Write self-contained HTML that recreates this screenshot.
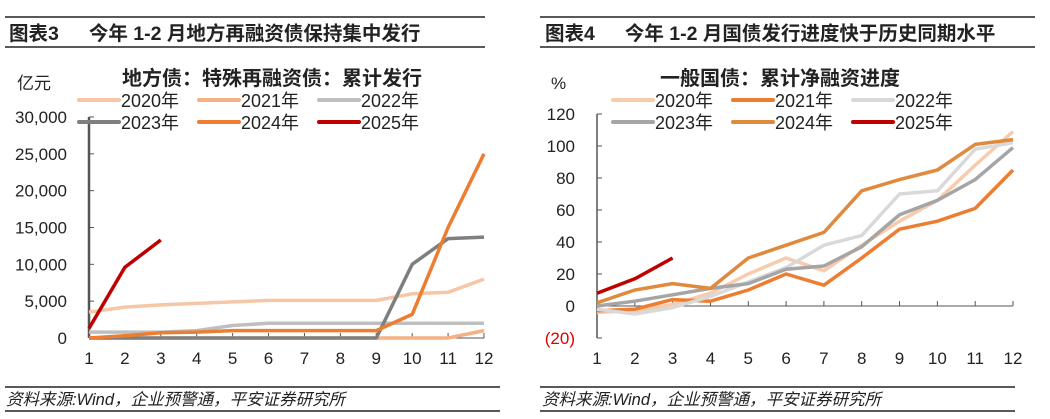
<!DOCTYPE html>
<html><head><meta charset="utf-8">
<style>
html,body{margin:0;padding:0;background:#fff;}
svg{display:block;font-family:"Liberation Sans","Noto Sans CJK SC",sans-serif;}
</style></head>
<body>
<svg id="root" width="1050" height="419" viewBox="0 0 1050 419" xmlns="http://www.w3.org/2000/svg">
  <g>
    <line x1="5" y1="17" x2="485" y2="17" stroke="#222" stroke-width="1.5"/>
    <line x1="5" y1="47" x2="485" y2="47" stroke="#222" stroke-width="1.5"/>
    <text x="9" y="40" font-size="19.5" font-weight="bold" fill="#222">图表3<tspan dx="30">今年 1-2 月地方再融资债保持集中发行</tspan></text>
  </g>
  <g>
    <line x1="540" y1="17" x2="1035" y2="17" stroke="#222" stroke-width="1.5"/>
    <line x1="540" y1="47" x2="1035" y2="47" stroke="#222" stroke-width="1.5"/>
    <text x="545" y="40" font-size="19.5" font-weight="bold" fill="#222">图表4<tspan dx="30">今年 1-2 月国债发行进度快于历史同期水平</tspan></text>
  </g>
  <g>
    <line x1="5" y1="387" x2="500" y2="387" stroke="#222" stroke-width="1.5"/>
    <line x1="5" y1="411" x2="500" y2="411" stroke="#222" stroke-width="1.5"/>
    <text x="6" y="405" font-size="16.5" font-style="italic" fill="#222">资料来源:Wind，企业预警通，平安证券研究所</text>
    <line x1="540" y1="387" x2="1015" y2="387" stroke="#222" stroke-width="1.5"/>
    <line x1="540" y1="411" x2="1015" y2="411" stroke="#222" stroke-width="1.5"/>
    <text x="542" y="405" font-size="16.5" font-style="italic" fill="#222">资料来源:Wind，企业预警通，平安证券研究所</text>
  </g>
  <g id="left-chart"></g>
  <g id="right-chart"></g>
</svg>
<script>
const months = [1,2,3,4,5,6,7,8,9,10,11,12];
const seriesNames = ["2020年","2021年","2022年","2023年","2024年","2025年"];
// Left chart (亿元)
const leftTicks = [0,5000,10000,15000,20000,25000,30000];
const leftTickLabels = ["0","5,000","10,000","15,000","20,000","25,000","30,000"];
const left2020 = [3500,4200,4500,4700,4900,5100,5100,5100,5100,6000,6200,8000];
const left2021 = [0,0,0,0,0,0,0,0,0,0,0,1000];
const left2022 = [800,800,800,1000,1700,2000,2000,2000,2000,2000,2000,2000];
const left2023 = [0,0,0,0,0,0,0,0,0,10000,13500,13700];
const left2024 = [0,300,700,800,1000,1000,1000,1000,1000,3200,15000,25000];
const left2025 = [1300,9600,13300];
// Right chart (%)
const rightTicks = [-20,0,20,40,60,80,100,120];
const rightTickLabels = ["(20)","0","20","40","60","80","100","120"];
const right2020 = [-4,-3,1,8,20,30,22,38,53,66,88,109];
const right2021 = [-3,-2,4,3,10,20,13,30,48,53,61,85];
const right2022 = [-2,-5,-1,6,15,24,38,44,70,72,98,102];
const right2023 = [0,3,7,11,14,23,25,37,57,66,79,99];
const right2024 = [2,10,14,11,30,38,46,72,79,85,101,104];
const right2025 = [8,17,30];

const colors = ["#F6C6A6","#F4B183","#BFBFBF","#7F7F7F","#ED7D31","#C00000"];
const rightColors = ["#F8CBAD","#ED7D31","#D9D9D9","#A5A5A5","#E08A3E","#C00000"];
const NS="http://www.w3.org/2000/svg";
function mk(parent,tag,attrs,text){const e=document.createElementNS(NS,tag);for(const k in attrs)e.setAttribute(k,attrs[k]);if(text!==undefined)e.textContent=text;parent.appendChild(e);return e;}

function drawChart(g,cfg){
  const x=m=>cfg.x0+(m-1)*(cfg.x1-cfg.x0)/11;
  const y=v=>cfg.y0-(v-cfg.vmin)*(cfg.y0-cfg.y1)/(cfg.vmax-cfg.vmin);
  const t=mk(g,'text',{x:cfg.titleX,y:85,'font-size':20,'font-weight':'bold',fill:'#222'},cfg.title);
  
  
  const u=mk(g,'text',{x:cfg.unitX,y:89,'font-size':17,fill:'#222'},cfg.unit);
  
  
  const ya=mk(g,'line',{x1:cfg.x0,y1:y(cfg.vmax),x2:cfg.x0,y2:y(cfg.vmin),stroke:'#555','stroke-width':cfg.axisW});
  
  
  cfg.ticks.forEach((v,i)=>{
    const tk=mk(g,'line',{x1:cfg.x0,y1:y(v),x2:cfg.x0+5,y2:y(v),stroke:'#555','stroke-width':1});
    
    
    const lb=mk(g,'text',{x:cfg.x0-22,y:y(v)+6,'font-size':17,'text-anchor':'end',fill:v<0?'#E00000':'#222'},cfg.tickLabels[i]);
    
    
  });
  const xa=mk(g,'line',{x1:cfg.x0,y1:y(0),x2:cfg.x1,y2:y(0),stroke:'#555','stroke-width':1});
  
  
  months.forEach(m=>{
    const tk=mk(g,'line',{x1:x(m),y1:y(0),x2:x(m),y2:y(0)-5,stroke:'#555','stroke-width':1});
    
    
    const lb=mk(g,'text',{x:x(m),y:364,'font-size':17,'text-anchor':'middle',fill:'#222'},String(m));
    
    
  });
  cfg.series.forEach((s,i)=>{
    const pts=s.map((v,j)=>x(months[j]).toFixed(1)+','+y(v).toFixed(1)).join(' ');
    const pl=mk(g,'polyline',{points:pts,fill:'none',stroke:cfg.colors[i],'stroke-width':3.5,'stroke-linejoin':'round'});
    
    
  });
  seriesNames.forEach((n,i)=>{
    const col=i%3,row=Math.floor(i/3);
    const lx=cfg.legX+col*120, ly=101+row*22;
    const lg=mk(g,'g',{});
    
    
    mk(lg,'line',{x1:lx,y1:ly-1,x2:lx+40,y2:ly-1,stroke:cfg.colors[i],'stroke-width':4,'stroke-linecap':'round'});
    mk(lg,'text',{x:lx+42,y:ly+6,'font-size':18,fill:'#222'},n);
  });
}
drawChart(document.getElementById('left-chart'),{
  x0:89,x1:484,y0:338,y1:117,vmin:0,vmax:30000,ticks:leftTicks,tickLabels:leftTickLabels,
  series:[left2020,left2021,left2022,left2023,left2024,left2025],colors:colors,
  title:"地方债：特殊再融资债：累计发行",titleX:122,unit:"亿元",unitX:17,legX:79,axisW:2.5
});
drawChart(document.getElementById('right-chart'),{
  x0:597,x1:1013,y0:338,y1:114,vmin:-20,vmax:120,ticks:rightTicks,tickLabels:rightTickLabels,
  series:[right2020,right2021,right2022,right2023,right2024,right2025],colors:rightColors,
  title:"一般国债：累计净融资进度",titleX:660,unit:"%",unitX:551,legX:613,axisW:1.5
});
</script>
</body></html>
